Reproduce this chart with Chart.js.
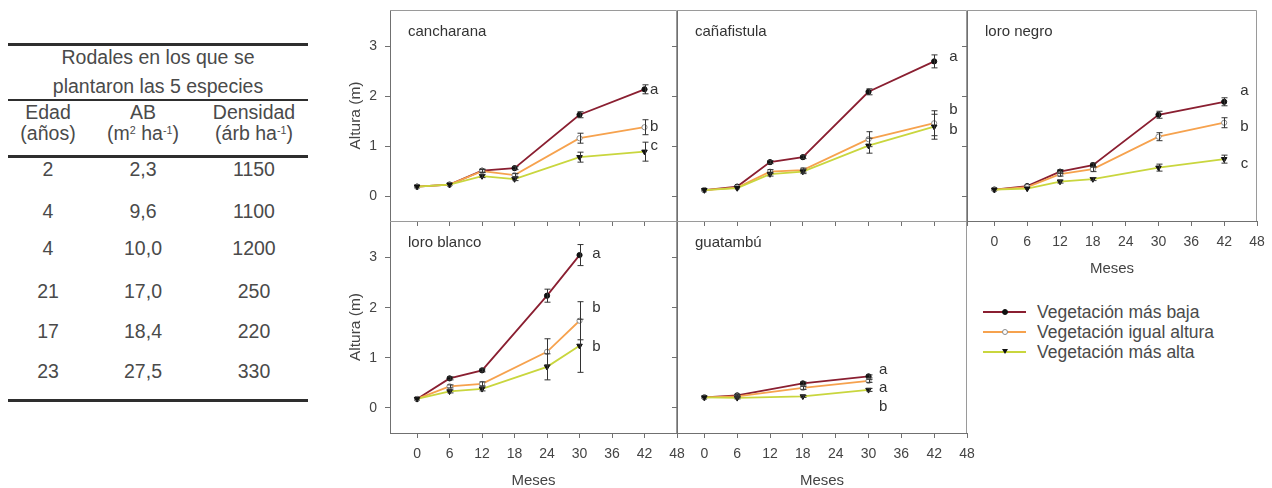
<!DOCTYPE html>
<html><head><meta charset="utf-8">
<script src="https://cdn.jsdelivr.net/npm/chart.js@4/dist/chart.umd.min.js"></script>
<style>
body{margin:0;width:1272px;height:488px;background:#fff;position:relative;overflow:hidden;font-family:"Liberation Sans",Arial,sans-serif;color:#444}
canvas.p{position:absolute}
.t{position:absolute;transform:translate(-50%,-50%);white-space:nowrap;font-size:19.5px;color:#4a4a4a;line-height:1}
.t sup{font-size:0.55em;vertical-align:0.6em}
.hl{position:absolute;left:8px;width:300px;background:#2e2e2e}
.lg{position:absolute;left:983px;height:20px;line-height:20px;font-size:17.5px;color:#4a4a4a;white-space:nowrap}
.lg .ln{position:absolute;left:0;top:9px;width:43px;height:2px}
.lg .mk{position:absolute;left:19px;top:7px;width:6px;height:6px;border-radius:50%;box-sizing:border-box}
.lg .tx{position:absolute;left:54px;top:0}
</style></head><body>
<script>
// ---------- DATA ----------
const xTicks = [0, 6, 12, 18, 24, 30, 36, 42, 48];
const yTicks = [0, 1, 2, 3];
const seriesNames = ['Vegetación más baja', 'Vegetación igual altura', 'Vegetación más alta'];

const cancharanaMonths = [0, 6, 12, 18, 30, 42];
const cancharanaBaja   = [0.19, 0.23, 0.51, 0.56, 1.63, 2.14];
const cancharanaIgual  = [0.19, 0.23, 0.50, 0.42, 1.16, 1.38];
const cancharanaAlta   = [0.19, 0.23, 0.40, 0.34, 0.78, 0.89];
const cancharanaBajaErr  = [0, 0, 0.03, 0.03, 0.06, 0.09];
const cancharanaIgualErr = [0, 0, 0.03, 0.03, 0.10, 0.15];
const cancharanaAltaErr  = [0, 0, 0.03, 0.03, 0.10, 0.19];
const cancharanaLetters = ['a', 'b', 'c'];
const cancharanaLetterY = [2.12, 1.38, 1.00];

const canafistulaMonths = [0, 6, 12, 18, 30, 42];
const canafistulaBaja   = [0.12, 0.19, 0.68, 0.78, 2.09, 2.70];
const canafistulaIgual  = [0.12, 0.17, 0.49, 0.52, 1.14, 1.46];
const canafistulaAlta   = [0.12, 0.16, 0.44, 0.49, 1.01, 1.39];
const canafistulaBajaErr  = [0, 0, 0.03, 0.03, 0.06, 0.13];
const canafistulaIgualErr = [0, 0, 0.04, 0.04, 0.15, 0.25];
const canafistulaAltaErr  = [0, 0, 0.04, 0.04, 0.15, 0.25];
const canafistulaLetters = ['a', 'b', 'b'];
const canafistulaLetterY = [2.79, 1.72, 1.32];

const loroNegroMonths = [0, 6, 12, 18, 30, 42];
const loroNegroBaja   = [0.13, 0.20, 0.49, 0.62, 1.63, 1.89];
const loroNegroIgual  = [0.13, 0.18, 0.44, 0.54, 1.19, 1.47];
const loroNegroAlta   = [0.13, 0.15, 0.29, 0.34, 0.57, 0.74];
const loroNegroBajaErr  = [0, 0, 0.04, 0.04, 0.07, 0.08];
const loroNegroIgualErr = [0, 0, 0.04, 0.05, 0.08, 0.10];
const loroNegroAltaErr  = [0, 0, 0.03, 0.03, 0.07, 0.08];
const loroNegroLetters = ['a', 'b', 'c'];
const loroNegroLetterY = [2.10, 1.38, 0.64];

const loroBlancoMonths = [0, 6, 12, 24, 30];
const loroBlancoBaja   = [0.18, 0.59, 0.75, 2.24, 3.05];
const loroBlancoIgual  = [0.18, 0.43, 0.48, 1.12, 1.74];
const loroBlancoAlta   = [0.18, 0.33, 0.38, 0.82, 1.24];
const loroBlancoBajaErr  = [0, 0.03, 0.03, 0.13, 0.21];
const loroBlancoIgualErr = [0, 0.03, 0.04, 0.26, 0.38];
const loroBlancoAltaErr  = [0, 0.03, 0.04, 0.26, 0.53];
const loroBlancoLetters = ['a', 'b', 'b'];
const loroBlancoLetterY = [3.07, 2.00, 1.22];

const guatambuMonths = [0, 6, 18, 30];
const guatambuBaja   = [0.21, 0.25, 0.49, 0.63];
const guatambuIgual  = [0.21, 0.23, 0.40, 0.54];
const guatambuAlta   = [0.21, 0.20, 0.23, 0.36];
const guatambuBajaErr  = [0, 0.02, 0.03, 0.03];
const guatambuIgualErr = [0, 0.02, 0.03, 0.03];
const guatambuAltaErr  = [0, 0.02, 0.02, 0.03];
const guatambuLetters = ['a', 'a', 'b'];
const guatambuLetterY = [0.76, 0.40, 0.02];

const tableTitle = ['Rodales en los que se', 'plantaron las 5 especies'];
const tableHeadTop = ['Edad', 'AB', 'Densidad'];
const tableHeadBottom = ['(años)', '(m<sup>2</sup> ha<sup>-1</sup>)', '(árb ha<sup>-1</sup>)'];
const edad = ['2', '4', '4', '21', '17', '23'];
const ab = ['2,3', '9,6', '10,0', '17,0', '18,4', '27,5'];
const densidad = ['1150', '1100', '1200', '250', '220', '330'];

// ---------- LAYOUT / STYLE ----------
const panels = [
  {name:'cancharana', months:cancharanaMonths, series:[cancharanaBaja,cancharanaIgual,cancharanaAlta], errs:[cancharanaBajaErr,cancharanaIgualErr,cancharanaAltaErr], letters:cancharanaLetters, letterY:cancharanaLetterY, letterX:43.8, box:[390,10,677,221], xLab:false, yLab:true},
  {name:'cañafistula', months:canafistulaMonths, series:[canafistulaBaja,canafistulaIgual,canafistulaAlta], errs:[canafistulaBajaErr,canafistulaIgualErr,canafistulaAltaErr], letters:canafistulaLetters, letterY:canafistulaLetterY, letterX:45.5, box:[677,10,967,221], xLab:false, yLab:false},
  {name:'loro negro', months:loroNegroMonths, series:[loroNegroBaja,loroNegroIgual,loroNegroAlta], errs:[loroNegroBajaErr,loroNegroIgualErr,loroNegroAltaErr], letters:loroNegroLetters, letterY:loroNegroLetterY, letterX:45.7, box:[967,10,1257,221], xLab:true, yLab:false},
  {name:'loro blanco', months:loroBlancoMonths, series:[loroBlancoBaja,loroBlancoIgual,loroBlancoAlta], errs:[loroBlancoBajaErr,loroBlancoIgualErr,loroBlancoAltaErr], letters:loroBlancoLetters, letterY:loroBlancoLetterY, letterX:33.1, box:[390,221,677,433], xLab:true, yLab:true},
  {name:'guatambú', months:guatambuMonths, series:[guatambuBaja,guatambuIgual,guatambuAlta], errs:[guatambuBajaErr,guatambuIgualErr,guatambuAltaErr], letters:guatambuLetters, letterY:guatambuLetterY, letterX:32.7, box:[677,221,967,433], xLab:true, yLab:false}
];
const styles = [
  {color:'#8a1f31', pointStyle:'circle', radius:2.6, rotation:0, bg:'#111', border:'#111', order:3},
  {color:'#f6a24e', pointStyle:'circle', radius:2.6, rotation:0, bg:'#fff', border:'#8a8a8a', order:2},
  {color:'#c9d63e', pointStyle:'triangle', radius:3.2, rotation:180, bg:'#111', border:'#111', order:1}
];
const FONT = '"Liberation Sans", Arial, sans-serif';
Chart.defaults.font.family = FONT;
Chart.defaults.color = '#444';

// ---------- TABLE ----------
function addText(html, cx, cy) {
  const d = document.createElement('div');
  d.className = 't'; d.innerHTML = html;
  d.style.left = cx + 'px'; d.style.top = cy + 'px';
  document.body.appendChild(d);
}
function addLine(y, h) {
  const d = document.createElement('div');
  d.className = 'hl'; d.style.top = y + 'px'; d.style.height = h + 'px';
  document.body.appendChild(d);
}
addLine(43, 2.5); addLine(99, 2); addLine(155, 2.5); addLine(399, 2.5);
addText(tableTitle[0], 158, 58); addText(tableTitle[1], 158, 87);
const colX = [48, 143, 254];
tableHeadTop.forEach((t, i) => addText(t, colX[i], 113));
tableHeadBottom.forEach((t, i) => addText(t, colX[i], 134));
const rowY = [170, 212, 249, 292, 332, 372];
edad.forEach((v, i) => { addText(v, colX[0], rowY[i]); addText(ab[i], colX[1], rowY[i]); addText(densidad[i], colX[2], rowY[i]); });

// ---------- LEGEND ----------
const legendY = [302, 322, 342];
seriesNames.forEach((n, i) => {
  const st = styles[i];
  const d = document.createElement('div');
  d.className = 'lg'; d.style.top = legendY[i] + 'px';
  const mk = st.pointStyle === 'triangle'
    ? `<span style="position:absolute;left:19px;top:7px;width:0;height:0;border-left:3px solid transparent;border-right:3px solid transparent;border-top:5px solid #111"></span>`
    : `<span class="mk" style="background:${st.bg};border:1.2px solid ${st.border}"></span>`;
  d.innerHTML = `<span class="ln" style="background:${st.color}"></span>${mk}<span class="tx">${n}</span>`;
  document.body.appendChild(d);
});

// ---------- CHARTS ----------
const deco = {
  id: 'deco',
  afterDatasetsDraw(chart) {
    const p = chart.canvas.$panel; if (!p) return;
    const xs = chart.scales.x, ys = chart.scales.y, ctx = chart.ctx;
    ctx.save();
    ctx.strokeStyle = '#333'; ctx.lineWidth = 1;
    p.series.forEach((vals, si) => {
      vals.forEach((v, i) => {
        const e = p.errs[si][i]; if (!e) return;
        const px = Math.round(xs.getPixelForValue(p.months[i])) + 0.5;
        const t = ys.getPixelForValue(v + e), b = ys.getPixelForValue(v - e);
        ctx.beginPath();
        ctx.moveTo(px, t); ctx.lineTo(px, b);
        ctx.moveTo(px - 3, t); ctx.lineTo(px + 3, t);
        ctx.moveTo(px - 3, b); ctx.lineTo(px + 3, b);
        ctx.stroke();
      });
    });
    ctx.restore();
  },
  afterDraw(chart) {
    const p = chart.canvas.$panel; if (!p) return;
    const a = chart.chartArea, ctx = chart.ctx, xs = chart.scales.x, ys = chart.scales.y;
    ctx.save();
    ctx.strokeStyle = '#9a9a9a'; ctx.lineWidth = 1;
    ctx.beginPath();
    const top = Math.round(a.top) + 0.5, right = Math.round(a.right) - 0.5;
    ctx.moveTo(a.left, top); ctx.lineTo(right, top); ctx.lineTo(right, a.bottom);
    ctx.stroke();
    ctx.fillStyle = '#333';
    ctx.font = '15px ' + FONT;
    ctx.textAlign = 'left'; ctx.textBaseline = 'middle';
    ctx.fillText(p.name, a.left + 18, a.top + 22);
    ctx.textAlign = 'center';
    p.letters.forEach((l, i) => ctx.fillText(l, xs.getPixelForValue(p.letterX), ys.getPixelForValue(p.letterY[i])));
    ctx.restore();
  }
};

panels.forEach(p => {
  const L = 50, T = 24, R = 26, B = 57;
  const [x0, y0, x1, y1] = p.box;
  const w = x1 - x0 + L + R, h = y1 - y0 + T + B;
  const c = document.createElement('canvas');
  c.className = 'p';
  c.width = w; c.height = h;
  c.style.left = (x0 - L) + 'px'; c.style.top = (y0 - T) + 'px';
  c.style.width = w + 'px'; c.style.height = h + 'px';
  c.$panel = p;
  document.body.appendChild(c);
  const datasets = p.series.map((vals, si) => {
    const st = styles[si];
    return {
      label: seriesNames[si],
      data: p.months.map((m, i) => ({x: m, y: vals[i]})),
      borderColor: st.color, borderWidth: 1.8, tension: 0,
      pointStyle: st.pointStyle, pointRadius: st.radius, pointRotation: st.rotation,
      pointBackgroundColor: st.bg, pointBorderColor: st.border, pointBorderWidth: 1,
      order: st.order, fill: false
    };
  });
  new Chart(c, {
    type: 'line',
    data: {datasets},
    options: {
      responsive: false, animation: false, events: [],
      layout: {padding: {left: 0, top: T, right: R, bottom: 0}},
      plugins: {legend: {display: false}, tooltip: {enabled: false}},
      scales: {
        x: {
          type: 'linear', min: -5, max: 48,
          afterBuildTicks: s => { s.ticks = xTicks.map(v => ({value: v})); },
          afterFit: s => { s.height = B; },
          ticks: {display: p.xLab, autoSkip: false, maxRotation: 0, padding: 8, font: {size: 14}, color: '#444', callback: v => String(v)},
          grid: {display: true, drawOnChartArea: false, drawTicks: true, tickLength: 5, tickColor: '#707070'},
          border: {display: true, color: '#707070', width: 1},
          title: {display: p.xLab, text: 'Meses', font: {size: 15}, color: '#444', padding: {top: 0, bottom: 0}}
        },
        y: {
          type: 'linear', min: -0.5, max: 3.73,
          afterBuildTicks: s => { s.ticks = yTicks.map(v => ({value: v})); },
          afterFit: s => { s.width = L; },
          ticks: {display: p.yLab, padding: 8, font: {size: 14}, color: '#444', callback: v => String(v)},
          grid: {display: true, drawOnChartArea: false, drawTicks: true, tickLength: 5, tickColor: '#707070'},
          border: {display: true, color: '#707070', width: 1},
          title: {display: p.yLab, text: 'Altura (m)', font: {size: 15.5}, color: '#444', padding: {top: 6, bottom: 0}}
        }
      }
    },
    plugins: [deco]
  });
});
</script>
</body></html>
